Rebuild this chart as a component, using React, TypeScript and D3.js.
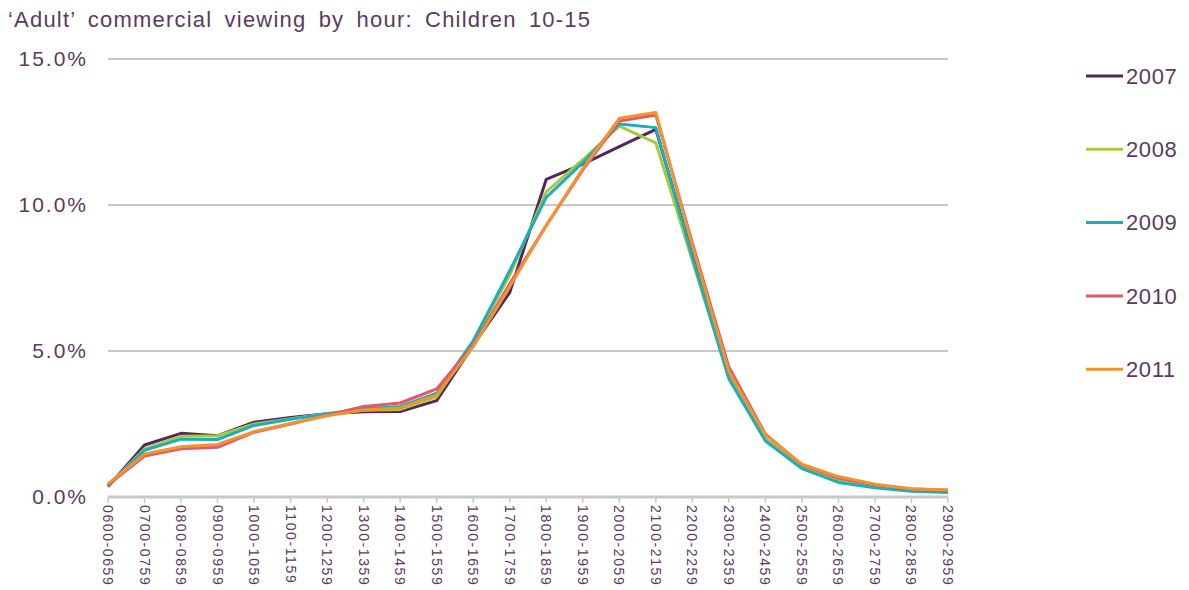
import * as d3 from 'd3';
import { useEffect, useRef } from 'react';

// hour bands on the x axis
const categories = [
  '0600-0659', '0700-0759', '0800-0859', '0900-0959', '1000-1059', '1100-1159',
  '1200-1259', '1300-1359', '1400-1459', '1500-1559', '1600-1659', '1700-1759',
  '1800-1859', '1900-1959', '2000-2059', '2100-2159', '2200-2259', '2300-2359',
  '2400-2459', '2500-2559', '2600-2659', '2700-2759', '2800-2859', '2900-2959',
];

// share of 'adult' commercial viewing, in %
const s2007 = [0.35, 1.78, 2.18, 2.1, 2.56, 2.72, 2.85, 2.92, 2.93, 3.3, 5.2, 7.0, 10.88, 11.4, 12.0, 12.59, 8.3, 4.1, 1.97, 1.0, 0.55, 0.35, 0.22, 0.18];
const s2008 = [0.38, 1.65, 2.08, 2.1, 2.5, 2.68, 2.85, 2.97, 3.0, 3.43, 5.3, 7.6, 10.45, 11.55, 12.7, 12.13, 8.1, 4.1, 1.97, 1.0, 0.55, 0.34, 0.22, 0.18];
const s2009 = [0.4, 1.6, 1.98, 1.97, 2.45, 2.66, 2.85, 3.02, 3.1, 3.56, 5.35, 7.75, 10.26, 11.45, 12.77, 12.65, 8.2, 4.05, 1.92, 0.97, 0.5, 0.32, 0.2, 0.15];
const s2010 = [0.42, 1.4, 1.65, 1.7, 2.22, 2.5, 2.8, 3.1, 3.22, 3.7, 5.2, 7.3, 9.3, 11.2, 12.88, 13.08, 8.7, 4.45, 2.15, 1.1, 0.65, 0.42, 0.27, 0.23];
const s2011 = [0.45, 1.47, 1.72, 1.8, 2.24, 2.52, 2.78, 2.98, 3.05, 3.5, 5.15, 7.2, 9.3, 11.25, 12.97, 13.17, 8.6, 4.3, 2.12, 1.12, 0.7, 0.44, 0.28, 0.24];

const years = ['2007', '2008', '2009', '2010', '2011'];
const colors = ['#50285a', '#a9c93b', '#1aaebe', '#e05a6c', '#f3932e'];
const yTicks = [0, 5, 10, 15];

export default function App() {
  const ref = useRef<SVGSVGElement>(null);

  useEffect(() => {
    document.body.style.margin = '0';
    const svg = d3.select(ref.current);
    svg.selectAll('*').remove();

    const W = 1189;
    const H = 590;
    const M = { top: 59, left: 108, right: 241, bottom: 93 };
    const textColor = '#5b3a60';
    const font = 'Liberation Sans, Arial, sans-serif';

    const series = [s2007, s2008, s2009, s2010, s2011];

    const x = d3
      .scalePoint<string>()
      .domain(categories)
      .range([M.left, W - M.right]);
    const y = d3
      .scaleLinear()
      .domain([0, 15])
      .range([H - M.bottom, M.top]);

    // title
    svg
      .append('text')
      .attr('x', 8)
      .attr('y', 27)
      .attr('fill', textColor)
      .attr('font-family', font)
      .attr('font-size', 22)
      .attr('letter-spacing', 1.2)
      .attr('word-spacing', 5)
      .text('‘Adult’ commercial viewing by hour: Children 10-15');

    // gridlines
    svg
      .append('g')
      .selectAll('line')
      .data(yTicks.filter((t) => t > 0))
      .join('line')
      .attr('x1', M.left)
      .attr('x2', W - M.right)
      .attr('y1', (d) => y(d))
      .attr('y2', (d) => y(d))
      .attr('stroke', '#c8c8c8')
      .attr('stroke-width', 2);

    // y labels
    svg
      .append('g')
      .selectAll('text')
      .data(yTicks)
      .join('text')
      .attr('x', 88)
      .attr('y', (d) => y(d))
      .attr('dy', '0.35em')
      .attr('text-anchor', 'end')
      .attr('fill', textColor)
      .attr('font-family', font)
      .attr('font-size', 21)
      .attr('letter-spacing', 2)
      .text((d) => d3.format('.1f')(d) + '%');

    // x axis
    const gx = svg.append('g');
    gx.append('line')
      .attr('x1', M.left)
      .attr('x2', W - M.right)
      .attr('y1', y(0))
      .attr('y2', y(0))
      .attr('stroke', '#c8c8c8')
      .attr('stroke-width', 3);
    gx.selectAll('line.tick')
      .data(categories)
      .join('line')
      .attr('class', 'tick')
      .attr('x1', (d) => x(d)!)
      .attr('x2', (d) => x(d)!)
      .attr('y1', y(0))
      .attr('y2', y(0) + 6)
      .attr('stroke', '#c8c8c8')
      .attr('stroke-width', 1.5);
    gx.selectAll('text')
      .data(categories)
      .join('text')
      .attr('transform', (d) => `translate(${x(d)! - 5},${y(0) + 8}) rotate(90)`)
      .attr('fill', textColor)
      .attr('font-family', font)
      .attr('font-size', 14)
      .attr('letter-spacing', 1.6)
      .text((d) => d);

    // lines
    const line = d3
      .line<number>()
      .x((_, i) => x(categories[i])!)
      .y((d) => y(d));

    svg
      .append('g')
      .attr('fill', 'none')
      .attr('stroke-width', 3)
      .attr('stroke-linejoin', 'round')
      .selectAll('path')
      .data(series)
      .join('path')
      .attr('stroke', (_, i) => colors[i])
      .attr('d', (d) => line(d));

    // legend
    const legend = svg
      .append('g')
      .selectAll('g')
      .data(years)
      .join('g')
      .attr('transform', (_, i) => `translate(1086,${76 + i * 73.3})`);
    legend
      .append('line')
      .attr('x1', 0)
      .attr('x2', 37)
      .attr('stroke', (_, i) => colors[i])
      .attr('stroke-width', 3);
    legend
      .append('text')
      .attr('x', 40)
      .attr('dy', '0.35em')
      .attr('fill', textColor)
      .attr('font-family', font)
      .attr('font-size', 22)
      .attr('letter-spacing', 0.6)
      .text((d) => d);
  }, []);

  return <svg ref={ref} width={1189} height={590} style={{ display: 'block', background: '#fff' }} />;
}
